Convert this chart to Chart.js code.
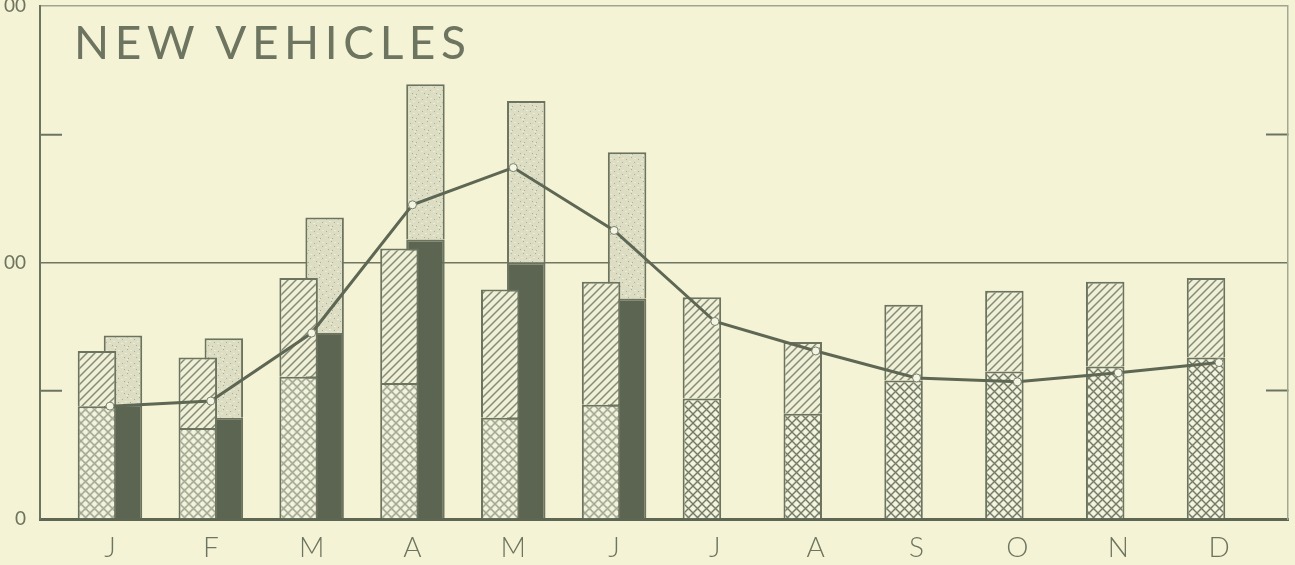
<!DOCTYPE html>
<html>
<head>
<meta charset="utf-8">
<title>New vehicles</title>
<script src="https://cdn.jsdelivr.net/npm/chart.js@4.4.1/dist/chart.umd.min.js"></script>
<style>
  html, body { margin: 0; padding: 0; background: #f4f3d5; }
  #wrap { position: relative; width: 1295px; height: 565px; overflow: hidden; }
  #title {
    position: absolute; left: 74px; top: 19px; margin: 0;
    font-family: Lato, sans-serif; font-weight: 400; font-size: 46px;
    line-height: 46px; letter-spacing: 5.6px; color: #6d745f;
  }
</style>
</head>
<body>
<div id="wrap">
  <canvas id="vehiclesChart" width="1295" height="565"></canvas>
  <div id="title">NEW VEHICLES</div>
</div>
<script>
const months = ['J', 'F', 'M', 'A', 'M', 'J', 'J', 'A', 'S', 'O', 'N', 'D'];

// left column of each month: cross-hatched lower part + hatched upper part
const leftLower = [44, 35.5, 55.5, 53, 39.5, 44.5, 47, 41, 54, 57.5, 59.5, 63];
const leftUpper = [21.5, 27.5, 38.5, 52.5, 50, 48, 39.5, 28, 29.5, 31.5, 33, 31];

// right column, only Jan - Jun
const rightLower = [44.5, 39.5, 72.5, 109, 100, 86, null, null, null, null, null, null];
const rightUpper = [27, 31, 45, 60.5, 63, 57, null, null, null, null, null, null];

// line through the months
const trend = [44, 46, 72.5, 122.5, 137, 112.5, 77, 65.5, 55, 53.5, 57, 61];

const yTicks = [0, 50, 100, 150, 200];
const yLabels = ['0', '', '00', '', '00'];

const ink = '#5e6753';
const edge = '#6c7460';
const textColor = '#6d745f';
const clear = 'rgba(0,0,0,0)';

const canvas = document.getElementById('vehiclesChart');
const ctx = canvas.getContext('2d');

function makePattern(size, paint) {
    const tile = document.createElement('canvas');
    tile.width = size;
    tile.height = size;
    paint(tile.getContext('2d'), size);
    return ctx.createPattern(tile, 'repeat');
}

function crossHatch(bg, line, dot) {
    return makePattern(9, (g, s) => {
        g.fillStyle = bg;
        g.fillRect(0, 0, s, s);
        g.fillStyle = dot;
        [[s / 2, 0], [s / 2, s], [0, s / 2], [s, s / 2]].forEach(([x, y]) => {
            g.beginPath();
            g.arc(x, y, 2.2, 0, Math.PI * 2);
            g.fill();
        });
        g.strokeStyle = line;
        g.lineWidth = 1.3;
        g.beginPath();
        g.moveTo(0, 0); g.lineTo(s, s);
        g.moveTo(s, 0); g.lineTo(0, s);
        g.stroke();
    });
}

const lightCross = crossHatch('#dcdec5', '#a4a992', '#f3f3e2');
const darkCross = crossHatch('#e4e5cc', '#737b66', '#f4f4e4');

const hatch = makePattern(8, (g, s) => {
    g.fillStyle = '#eff0d6';
    g.fillRect(0, 0, s, s);
    g.strokeStyle = '#858b77';
    g.lineWidth = 1.5;
    g.beginPath();
    g.moveTo(-1, s + 1); g.lineTo(s + 1, -1);
    g.moveTo(-1, 1); g.lineTo(1, -1);
    g.moveTo(s - 1, s + 1); g.lineTo(s + 1, s - 1);
    g.stroke();
});

const stipple = makePattern(12, (g, s) => {
    g.fillStyle = '#dcddc3';
    g.fillRect(0, 0, s, s);
    g.fillStyle = '#a9ae97';
    [[2, 3], [7, 1], [10, 6], [4, 9], [8, 10]].forEach(([x, y]) => g.fillRect(x, y, 1, 1));
    g.fillStyle = '#ebebd6';
    [[5, 5], [1, 7], [10, 2], [6, 11]].forEach(([x, y]) => g.fillRect(x, y, 2, 1));
});

const toPoints = values => values.map((v, i) => ({ x: i + 1, y: v }));

new Chart(ctx, {
    type: 'bar',
    data: {
        datasets: [
            {
                type: 'line',
                label: 'Trend',
                data: toPoints(trend),
                stack: 'trend',
                order: 0,
                borderColor: ink,
                borderWidth: 3,
                tension: 0,
                pointRadius: 4,
                pointBackgroundColor: '#f5f5e4',
                pointBorderColor: '#7b836e',
                pointBorderWidth: 1
            },
            {
                label: 'Left lower',
                data: toPoints(leftLower),
                stack: 'left',
                order: 1,
                backgroundColor: c => (c.dataIndex < 6 ? lightCross : darkCross),
                borderColor: edge,
                borderWidth: 2
            },
            {
                label: 'Left upper',
                data: toPoints(leftUpper),
                stack: 'left',
                order: 1,
                backgroundColor: hatch,
                borderColor: edge,
                borderWidth: 2
            },
            {
                label: 'Right lower',
                data: toPoints(rightLower),
                stack: 'right',
                order: 2,
                backgroundColor: '#5c6551',
                borderColor: edge,
                borderWidth: 2
            },
            {
                label: 'Right upper',
                data: toPoints(rightUpper),
                stack: 'right',
                order: 2,
                backgroundColor: stipple,
                borderColor: edge,
                borderWidth: 2
            }
        ]
    },
    options: {
        responsive: false,
        animation: false,
        devicePixelRatio: 1,
        layout: { padding: { top: 6, left: 0, right: 0, bottom: 0 } },
        datasets: {
            bar: { grouped: true, categoryPercentage: 0.516, barPercentage: 1.48 }
        },
        plugins: {
            legend: { display: false },
            tooltip: { enabled: false },
            title: { display: false }
        },
        scales: {
            x: {
                type: 'linear',
                offset: false,
                min: 0.306,
                max: 12.684,
                afterBuildTicks: axis => { axis.ticks = months.map((m, i) => ({ value: i + 1 })); },
                afterFit: s => { s.height = 46; s.paddingLeft = 0; s.paddingRight = 0; },
                grid: { display: false, drawTicks: false, offset: false },
                border: { display: true, color: ink, width: 3 },
                ticks: {
                    autoSkip: false,
                    maxRotation: 0,
                    padding: 12,
                    color: textColor,
                    font: { family: 'Lato', size: 28, weight: 300 },
                    callback: v => months[v - 1]
                }
            },
            y: {
                position: 'left',
                stacked: true,
                min: 0,
                max: 200,
                afterBuildTicks: axis => { axis.ticks = yTicks.map(v => ({ value: v })); },
                afterFit: s => { s.width = 40; s.paddingTop = 0; s.paddingBottom = 0; },
                grid: {
                    color: c => (c.tick.value === 100 ? '#6f7763' : c.tick.value === 200 ? '#9ea48f' : clear),
                    lineWidth: 1.5,
                    tickLength: -22,
                    tickColor: c => (c.tick.value === 50 || c.tick.value === 150 ? edge : clear),
                    tickWidth: 2
                },
                border: { display: true, color: edge, width: 2 },
                ticks: {
                    padding: 36,
                    color: textColor,
                    font: { family: 'Lato', size: 19 },
                    callback: v => yLabels[yTicks.indexOf(v)]
                }
            },
            yRight: {
                position: 'right',
                min: 0,
                max: 200,
                afterBuildTicks: axis => { axis.ticks = yTicks.map(v => ({ value: v })); },
                afterFit: s => { s.width = 7; s.paddingTop = 0; s.paddingBottom = 0; },
                grid: {
                    drawOnChartArea: false,
                    tickLength: -22,
                    tickColor: c => (c.tick.value === 50 || c.tick.value === 150 ? edge : clear),
                    tickWidth: 2
                },
                border: { display: true, color: '#a3a893', width: 1.5 },
                ticks: { display: false }
            }
        }
    }
});
</script>
</body>
</html>
